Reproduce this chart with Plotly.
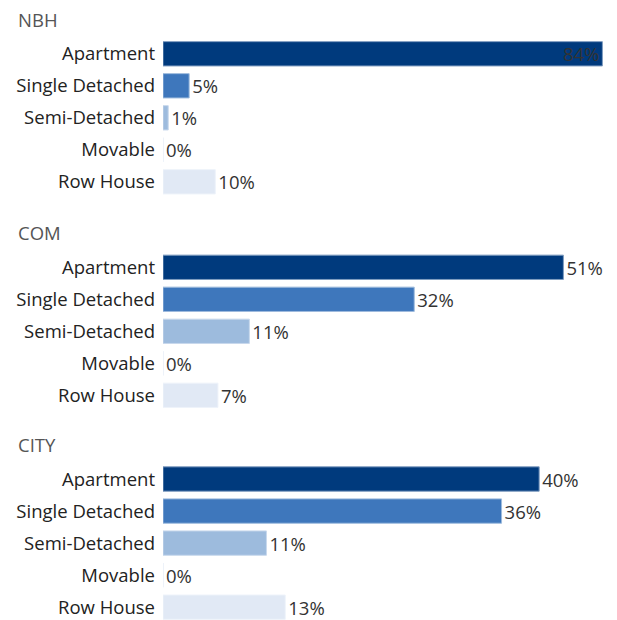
import plotly.graph_objects as go

categories = ["Apartment", "Single Detached", "Semi-Detached", "Movable", "Row House"]
panels = ["NBH", "COM", "CITY"]
nbh_values = [84, 5, 1, 0, 10]
com_values = [51, 32, 11, 0, 7]
city_values = [40, 36, 11, 0, 13]
bar_colors = ["#003a7d", "#3e77bc", "#9dbbdd", "#dde6f3", "#e1e9f5"]
line_colors = ["#7f9cc0", "#9ebbdd", "#c8d8ec", "#e8eef7", "#eef3fa"]

W, H = 617, 620
series = [nbh_values, com_values, city_values]
x_max = [84.5, 56.3, 47.0]
# band top/bottom in pixels for each panel
bands = [(37.8, 197.8), (251.3, 411.3), (463.0, 620.0)]
y_ranges = [[4.5, -0.5], [4.5, -0.5], [4.4, -0.5]]
title_y = [20, 232, 444]

FONT = "Open Sans"
TXT = "#333333"
FS = 18.5

fig = go.Figure()
for i, vals in enumerate(series):
    ax = "" if i == 0 else str(i + 1)
    positions = ["inside" if v > 0.95 * x_max[i] else "outside" for v in vals]
    fig.add_trace(go.Bar(
        x=vals, y=categories, orientation="h",
        xaxis="x" + ax, yaxis="y" + ax,
        marker=dict(color=bar_colors, line=dict(color=line_colors, width=1)),
        text=[f"{v}%" for v in vals],
        textposition=positions,
        insidetextanchor="end",
        textangle=0,
        constraintext="none",
        cliponaxis=False,
        insidetextfont=dict(family=FONT, size=FS, color=TXT),
        outsidetextfont=dict(family=FONT, size=FS, color=TXT),
        hoverinfo="skip",
        showlegend=False,
    ))
    top, bot = bands[i]
    fig.layout["xaxis" + ax] = dict(
        domain=[163 / W, 605 / W], range=[0, x_max[i]],
        visible=False, anchor="y" + ax, automargin=False,
    )
    fig.layout["yaxis" + ax] = dict(
        domain=[1 - bot / H, 1 - top / H], range=y_ranges[i],
        type="category", categoryorder="array", categoryarray=categories,
        showgrid=False, zeroline=False, showline=False, ticks="",
        ticklabelstandoff=7, automargin=False,
        tickfont=dict(family=FONT, size=FS, color="#222222"),
        anchor="x" + ax,
    )
    fig.add_annotation(
        text=panels[i], xref="paper", yref="paper",
        x=16 / W, y=1 - title_y[i] / H, xanchor="left", yanchor="middle",
        showarrow=False, font=dict(family=FONT, size=FS, color="#555555"),
    )

fig.update_layout(
    width=W, height=H,
    margin=dict(l=0, r=0, t=0, b=0),
    paper_bgcolor="white", plot_bgcolor="white",
    bargap=0.24,
    font=dict(family=FONT),
)

fig.write_html(
    "out.html",
    config={"displayModeBar": False},
    post_script="document.body.style.margin='0';document.body.style.overflow='hidden';",
)
